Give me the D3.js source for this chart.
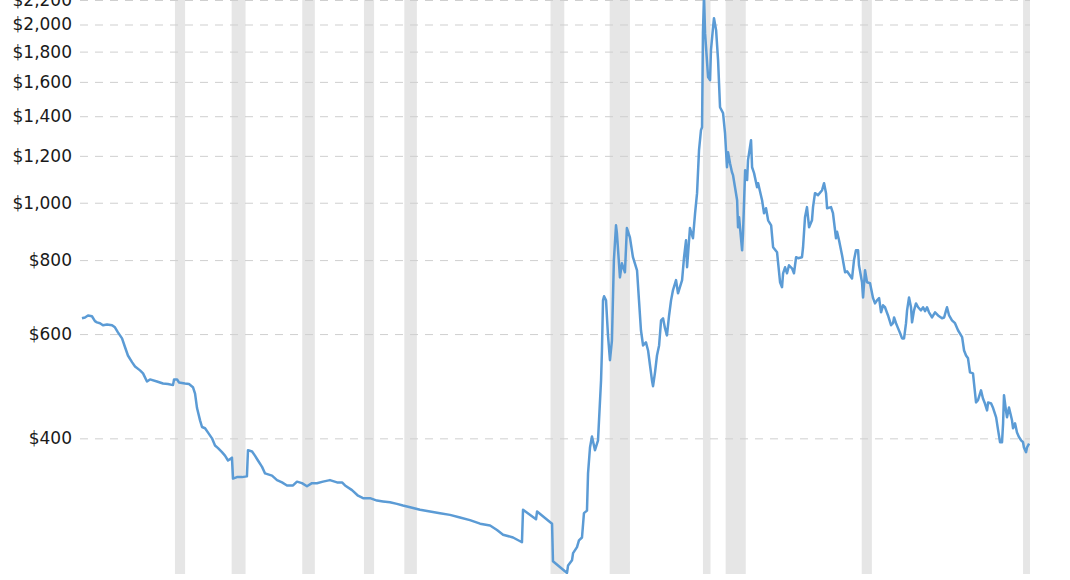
<!DOCTYPE html>
<html>
<head>
<meta charset="utf-8">
<script src="https://cdn.jsdelivr.net/npm/d3@7"></script>
<style>
  html, body { margin: 0; padding: 0; background: #fff; }
  svg { display: block; }
</style>
</head>
<body>
<svg id="chart" width="1070" height="580"></svg>
<script>
// ---- DATA ----
const years = [
  1938.93,1939.13,1939.33,1939.59,1939.79,1939.92,1940.12,1940.32,1940.59,1940.92,
  1941.11,1941.31,1941.58,1941.78,1941.97,1942.24,1942.44,1942.77,1942.97,1943.23,
  1943.43,1943.89,1944.29,1944.62,1944.95,1945.02,1945.22,1945.35,1945.74,1946.01,
  1946.27,1946.41,1946.54,1946.74,1946.87,1947.07,1947.27,1947.53,1947.73,1947.93,
  1948.19,1948.39,1948.59,1948.85,1948.92,1949.18,1949.51,1949.84,1949.91,1950.18,
  1950.37,1950.57,1950.84,1951.04,1951.50,1951.83,1952.16,1952.49,1952.89,1953.15,
  1953.48,1953.81,1954.14,1954.47,1954.87,1955.33,1955.80,1956.13,1956.33,1956.79,
  1957.19,1957.52,1957.98,1958.44,1958.84,1959.30,1959.76,1960.16,1960.63,1961.29,
  1961.95,1962.61,1963.27,1963.93,1964.59,1965.26,1965.92,1966.38,1966.78,1967.44,
  1968.03,1968.10,1968.96,1969.03,1970.02,1970.08,1971.01,1971.08,1971.34,1971.41,
  1971.67,1971.80,1972.00,1972.13,1972.33,1972.40,1972.53,1972.66,1972.86,1973.06,
  1973.26,1973.32,1973.39,1973.46,1973.59,1973.72,1973.85,1973.98,1974.11,1974.25,
  1974.31,1974.51,1974.64,1974.84,1974.97,1975.17,1975.37,1975.64,1975.77,1975.90,
  1976.04,1976.23,1976.37,1976.50,1976.63,1976.70,1976.83,1976.96,1977.10,1977.23,
  1977.36,1977.49,1977.62,1977.76,1977.89,1978.02,1978.22,1978.35,1978.62,1978.75,
  1978.88,1978.95,1979.14,1979.34,1979.48,1979.61,1979.74,1979.87,1979.94,1980.00,
  1980.07,1980.14,1980.34,1980.47,1980.53,1980.67,1980.73,1980.87,1981.00,1981.13,
  1981.33,1981.46,1981.59,1981.66,1981.79,1981.92,1981.99,1982.12,1982.26,1982.32,
  1982.39,1982.59,1982.65,1982.79,1982.92,1982.98,1983.18,1983.25,1983.38,1983.58,
  1983.65,1983.91,1984.04,1984.17,1984.31,1984.51,1984.64,1984.90,1985.10,1985.23,
  1985.30,1985.43,1985.56,1985.69,1985.89,1986.02,1986.16,1986.29,1986.55,1986.62,
  1986.75,1986.88,1987.02,1987.21,1987.28,1987.41,1987.61,1987.88,1988.01,1988.14,
  1988.21,1988.47,1988.60,1988.80,1988.87,1989.00,1989.20,1989.40,1989.53,1989.86,
  1989.99,1990.12,1990.26,1990.32,1990.52,1990.59,1990.72,1990.85,1991.05,1991.25,
  1991.38,1991.51,1991.65,1991.78,1991.91,1992.04,1992.24,1992.44,1992.57,1992.64,
  1992.77,1992.90,1993.04,1993.17,1993.30,1993.43,1993.50,1993.63,1993.76,1993.83,
  1993.96,1994.09,1994.23,1994.42,1994.56,1994.69,1994.82,1994.95,1995.15,1995.35,
  1995.55,1995.81,1995.95,1996.08,1996.14,1996.28,1996.47,1996.67,1996.87,1997.14,
  1997.27,1997.40,1997.53,1997.66,1997.86,1997.93,1998.06,1998.19,1998.39,1998.52,
  1998.65,1998.79,1998.86,1999.06,1999.19,1999.39,1999.52,1999.65,1999.78,1999.85,
  1999.91,2000.04,2000.11,2000.24,2000.44,2000.51,2000.64,2000.77,2000.90,2001.04,
  2001.17,2001.23,2001.37,2001.43,2001.57
];
const prices = [
  638,640,645,643,631,628,626,621,623,621,
  616,604,590,570,552,538,529,521,515,499,
  503,499,495,494,492,503,503,497,495,494,
  488,476,450,429,418,416,409,400,389,385,
  379,374,367,371,342,344,344,345,382,380,
  374,367,358,349,346,340,337,333,333,338,
  336,332,336,336,338,340,337,337,333,327,
  320,317,317,314,313,312,310,308,306,303,
  301,299,297,294,291,287,285,280,275,272,
  267,303,292,301,287,248,237,244,249,256,
  262,269,272,299,302,349,386,403,382,397,
  501,563,684,695,684,597,542,585,800,916,
  888,748,790,763,906,874,809,769,684,609,
  574,581,563,531,501,490,517,552,574,633,
  638,614,597,645,684,712,740,703,740,809,
  864,778,906,871,960,1038,1227,1326,1341,1934,
  2240,1934,1630,1611,1811,1980,2050,1957,1741,1450,
  1417,1311,1148,1217,1166,1126,1113,1062,1010,909,
  945,831,888,1135,1092,1180,1275,1148,1122,1062,
  1079,1010,960,979,934,916,841,825,734,720,
  760,778,760,784,775,760,809,806,809,841,
  945,983,909,934,983,1038,1030,1050,1079,1038,
  979,983,960,871,893,864,815,763,766,745,
  800,831,831,784,734,692,769,734,731,690,
  676,684,690,653,671,666,645,621,626,640,
  626,614,602,590,590,626,658,692,666,628,
  658,676,666,658,666,656,666,653,640,653,
  645,638,640,658,666,645,633,626,609,593,
  563,552,546,517,515,495,460,464,482,467,
  458,446,460,458,450,434,413,394,394,424,
  473,446,434,451,429,416,424,409,402,397,
  394,386,379,386,392
];
// US recessions (start, end) as decimal years
const recessionStart = [1945.08,1948.83,1953.50,1957.58,1960.25,1969.92,1973.83,1980.00,1981.50,1990.50,2001.17];
const recessionEnd   = [1945.75,1949.75,1954.33,1958.25,1961.08,1970.83,1975.17,1980.50,1982.83,1991.17,2001.83];
const yTickValues = [400,600,800,1000,1200,1400,1600,1800,2000,2200];
const yTickLabels = ["$400","$600","$800","$1,000","$1,200","$1,400","$1,600","$1,800","$2,000","$2,200"];

// ---- LAYOUT ----
const svg = d3.select("#chart");
const plotLeft = 80, plotRight = 1030, plotTop = 0, plotBottom = 574;

const x = d3.scaleLinear().domain([1938.8, 2001.63]).range([plotLeft, plotRight]);
const y = d3.scaleLog().domain([236, 2200]).range([plotBottom, plotTop]);

svg.append("defs").append("clipPath").attr("id", "plotclip")
  .append("rect").attr("x", plotLeft).attr("y", -10)
  .attr("width", plotRight - plotLeft).attr("height", plotBottom + 10);

const plot = svg.append("g").attr("clip-path", "url(#plotclip)");

// recession bands
plot.selectAll("rect.rec")
  .data(recessionStart.map((s, i) => [s, recessionEnd[i]]))
  .join("rect")
  .attr("class", "rec")
  .attr("x", d => x(d[0]))
  .attr("y", plotTop)
  .attr("width", d => x(d[1]) - x(d[0]))
  .attr("height", plotBottom - plotTop)
  .attr("fill", "#e6e6e6");

// y axis with gridlines
const yAxis = d3.axisLeft(y)
  .tickValues(yTickValues)
  .tickFormat((d, i) => yTickLabels[i])
  .tickSize(-(plotRight - plotLeft))
  .tickPadding(8);

const gy = svg.append("g")
  .attr("transform", `translate(${plotLeft},0)`)
  .call(yAxis);
gy.select(".domain").remove();
gy.selectAll(".tick line")
  .attr("stroke", "#cfcfcf")
  .attr("stroke-width", 1)
  .attr("stroke-dasharray", "8,7");
gy.selectAll(".tick text")
  .attr("fill", "#1a1a1a")
  .style("font-family", "Verdana, 'DejaVu Sans', sans-serif")
  .style("font-size", "17px");

// price line
const data = years.map((yr, i) => ({ t: yr, v: prices[i] }));
const line = d3.line().x(d => x(d.t)).y(d => y(d.v));
svg.append("g").attr("clip-path", "url(#plotclip)")
  .append("path")
  .datum(data)
  .attr("d", line)
  .attr("fill", "none")
  .attr("stroke", "#5b9bd5")
  .attr("stroke-width", 2.5)
  .attr("stroke-linejoin", "round");
</script>
</body>
</html>
